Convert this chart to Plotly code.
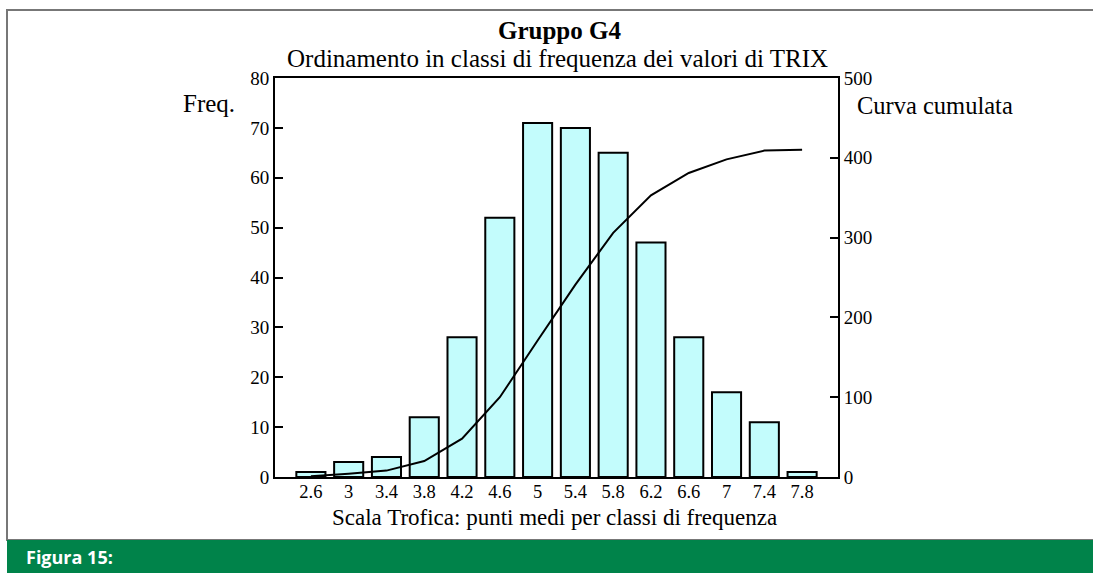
import plotly.graph_objects as go
from plotly.subplots import make_subplots

# punti medi delle classi di frequenza (scala trofica TRIX)
classi = ["2.6", "3", "3.4", "3.8", "4.2", "4.6", "5", "5.4", "5.8", "6.2", "6.6", "7", "7.4", "7.8"]
frequenze = [1, 3, 4, 12, 28, 52, 71, 70, 65, 47, 28, 17, 11, 1]
cumulata = [1, 4, 8, 20, 48, 100, 171, 241, 306, 353, 381, 398, 409, 410]

freq_ticks = [0, 10, 20, 30, 40, 50, 60, 70, 80]
cum_ticks = [0, 100, 200, 300, 400, 500]

serif = "Liberation Serif"

# area del grafico in pixel
L, R, T, B = 275, 838, 78, 477
W, H = 1093, 573


def px(x):
    return (x - L) / (R - L)


def py(y):
    return (B - y) / (B - T)


fig = make_subplots(specs=[[{"secondary_y": True}]])

fig.add_trace(
    go.Bar(x=list(range(len(classi))), y=frequenze, name="Freq.",
           marker=dict(color="#c3fcfc", line=dict(color="black", width=2)),
           width=0.77),
    secondary_y=False,
)

fig.add_trace(
    go.Scatter(x=list(range(len(classi))), y=cumulata, name="Curva cumulata",
               mode="lines", line=dict(color="black", width=2)),
    secondary_y=True,
)

fig.update_layout(
    width=W, height=H, autosize=False,
    margin=dict(l=L, r=W - R, t=T, b=H - B, pad=0),
    plot_bgcolor="white", paper_bgcolor="white",
    showlegend=False,
    font=dict(family=serif, size=19, color="black"),
    xaxis_domain=[0, 1],
)

fig.update_xaxes(
    tickmode="array", tickvals=list(range(len(classi))), ticktext=classi,
    range=[-0.95, 13.95], showline=True, linecolor="black", linewidth=2,
    mirror=True, ticks="", showgrid=False, zeroline=False, automargin=False,
    tickfont=dict(family=serif, size=18.5), ticklabelstandoff=-3,
)
fig.update_yaxes(
    range=[0, 80], tickvals=freq_ticks, ticks="inside", ticklen=8,
    tickwidth=2, tickcolor="black", showline=True, linecolor="black",
    linewidth=2, showgrid=False, zeroline=False, automargin=False,
    tickfont=dict(family=serif, size=19), secondary_y=False,
)
fig.update_yaxes(
    range=[0, 500], tickvals=cum_ticks, ticks="inside", ticklen=8,
    tickwidth=2, tickcolor="black", showline=True, linecolor="black",
    linewidth=2, showgrid=False, zeroline=False, automargin=False,
    tickfont=dict(family=serif, size=19), secondary_y=True,
)

# cornice grigia e banda verde della didascalia
fig.add_shape(type="rect", xref="paper", yref="paper",
              x0=px(7), x1=px(W + 10), y0=py(540), y1=py(10),
              line=dict(color="#777777", width=2), fillcolor="rgba(0,0,0,0)",
              layer="below")
fig.add_shape(type="rect", xref="paper", yref="paper",
              x0=px(7), x1=px(W + 10), y0=py(H + 10), y1=py(540),
              line=dict(width=0), fillcolor="#00834a")


def testo(t, x, y, size, xanchor="center", family=serif, color="black"):
    fig.add_annotation(text=t, xref="paper", yref="paper", x=px(x), y=py(y),
                       xanchor=xanchor, yanchor="middle", showarrow=False,
                       font=dict(family=family, size=size, color=color))


testo("<b>Gruppo G4</b>", 559, 31, 25)
testo("Ordinamento in classi di frequenza dei valori di TRIX", 557, 58, 25)
testo("Freq.", 237, 103, 25, xanchor="right")
testo("Curva cumulata", 855, 105, 24.5, xanchor="left")
testo("Scala Trofica: punti medi per classi di frequenza", 554, 517, 23)
testo("<b>Figura 15:</b>", 24, 557, 18, xanchor="left",
      family="Open Sans", color="white")

fig.write_html(
    "out.html",
    config={"responsive": False, "displayModeBar": False},
    post_script="document.body.style.margin='0';document.body.style.overflow='hidden';",
)
